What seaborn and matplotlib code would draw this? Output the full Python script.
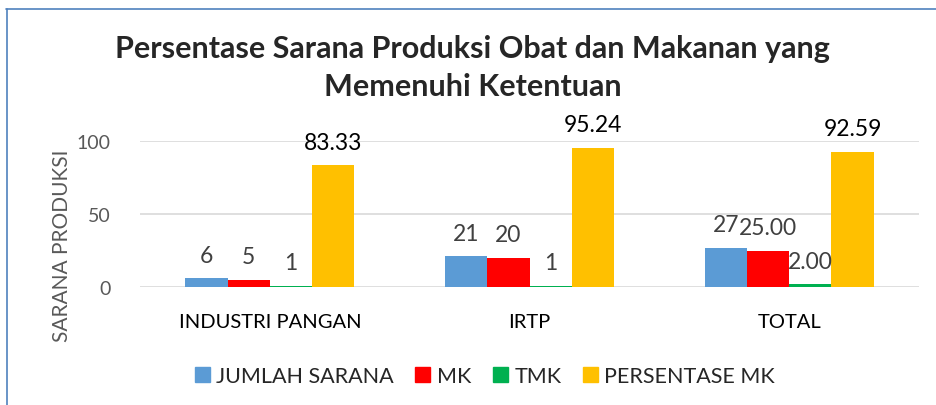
import pandas as pd
import matplotlib.pyplot as plt
import seaborn as sns
from matplotlib.lines import Line2D

# data
categories = ["INDUSTRI PANGAN", "IRTP", "TOTAL"]
series = ["JUMLAH SARANA", "MK", "TMK", "PERSENTASE MK"]
jumlah_sarana = [6, 21, 27]
mk = [5, 20, 25]
tmk = [1, 1, 2]
persentase_mk = [83.33, 95.24, 92.59]
labels_jumlah = ["6", "21", "27"]
labels_mk = ["5", "20", "25.00"]
labels_tmk = ["1", "1", "2.00"]
labels_persen = ["83.33", "95.24", "92.59"]
colors = ["#5B9BD5", "#FF0000", "#00B050", "#FFC000"]

rows = []
for name, vals in zip(series, [jumlah_sarana, mk, tmk, persentase_mk]):
    for cat, v in zip(categories, vals):
        rows.append({"kategori": cat, "seri": name, "nilai": v})
df = pd.DataFrame(rows)

sns.set_theme(style="white")
plt.rcParams['font.family'] = ['Lato', 'DejaVu Sans']

fig = plt.figure(figsize=(9.36, 4.06), dpi=100)
ax = fig.add_axes([0.1496, 0.2906, 0.8323, 0.3596])

sns.barplot(data=df, x="kategori", y="nilai", hue="seri", hue_order=series,
            order=categories, palette=colors, width=0.65, gap=0,
            saturation=1, linewidth=0, ax=ax, legend=False)

ax.set_ylim(0, 100)
ax.set_xlim(-0.5, 2.5)
ax.set_yticks([0, 50, 100])
ax.yaxis.grid(True, color="#D9D9D9", linewidth=1.2)
ax.set_axisbelow(True)
for s in ax.spines.values():
    s.set_visible(False)
ax.tick_params(axis='y', labelsize=14, labelcolor="#595959", length=0, pad=21)
ax.tick_params(axis='x', labelsize=14.5, labelcolor="#000000", length=0, pad=19)
ax.set_xlabel("")
ax.set_ylabel("")
fig.text(62 / 936, 1 - 246 / 406, "SARANA PRODUKSI", rotation=90, ha="center", va="center",
         fontsize=15, color="#595959")

all_labels = [labels_jumlah, labels_mk, labels_tmk, labels_persen]
label_colors = ["#404040", "#404040", "#404040", "#000000"]
for cont, labs, lc in zip(ax.containers, all_labels, label_colors):
    ax.bar_label(cont, labels=labs, padding=9, fontsize=16.5, color=lc, clip_on=False)

fig.text(0.505, 1 - 68 / 406, "Persentase Sarana Produksi Obat dan Makanan yang\nMemenuhi Ketentuan",
         ha="center", va="center", fontsize=22, fontweight="bold", linespacing=1.4)

handles = [plt.Rectangle((0, 0), 1, 1, color=c) for c in colors]
fig.legend(handles, series, loc="center", bbox_to_anchor=(0.518, 0.072), ncol=4,
           frameon=False, fontsize=15.5, handlelength=0.7, handleheight=0.7,
           handletextpad=0.3, columnspacing=1.0)

# chart area border (top and left edges visible)
fig.add_artist(Line2D([6 / 936, 1], [1 - 10 / 406, 1 - 10 / 406], color="#4F81BD", linewidth=1.2))
fig.add_artist(Line2D([7 / 936, 7 / 936], [0, 1 - 10 / 406], color="#4F81BD", linewidth=1.2))

fig.savefig("out.png", dpi=100)
